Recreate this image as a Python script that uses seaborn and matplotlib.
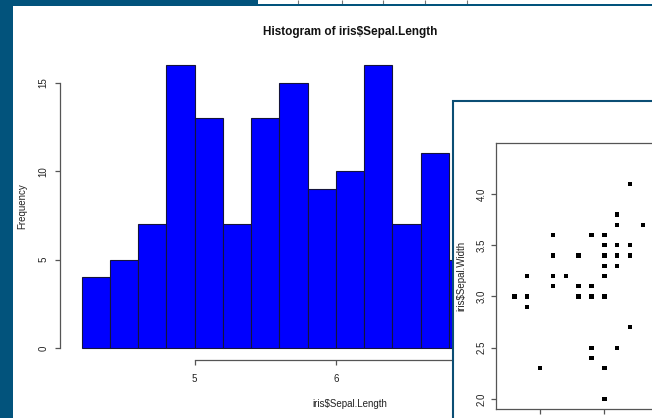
import numpy as np
import pandas as pd
import matplotlib
matplotlib.use("Agg")
import matplotlib.pyplot as plt
from matplotlib.patches import Rectangle
import seaborn as sns

# Histogram of sepal length: bin edges and counts per bin
bin_edges = [4.2, 4.4, 4.6, 4.8, 5.0, 5.2, 5.4, 5.6, 5.8, 6.0, 6.2, 6.4, 6.6, 6.8, 7.0]
bin_counts = [4, 5, 7, 16, 13, 7, 13, 15, 9, 10, 16, 7, 11, 5]
hist_xticks = [5, 6, 7, 8]
hist_yticks = [0, 5, 10, 15]

# Sepal length vs sepal width scatter points
sepal_length = [4.3, 4.4, 4.4, 4.4, 4.5, 4.6, 4.6, 4.6, 4.6, 4.7,
                4.8, 4.8, 4.8, 4.9, 4.9, 4.9, 4.9, 4.9, 5.0, 5.0,
                5.0, 5.0, 5.0, 5.0, 5.0, 5.0, 5.0, 5.1, 5.1, 5.1,
                5.1, 5.1, 5.1, 5.2, 5.2, 5.2, 5.2, 5.3]
sepal_width = [3.0, 2.9, 3.0, 3.2, 2.3, 3.1, 3.2, 3.4, 3.6, 3.2,
               3.0, 3.1, 3.4, 2.4, 2.5, 3.0, 3.1, 3.6, 2.0, 2.3,
               3.0, 3.2, 3.3, 3.4, 3.5, 3.6, 3.0, 2.5, 3.3, 3.4,
               3.5, 3.7, 3.8, 2.7, 3.4, 3.5, 4.1, 3.7]
scatter_xticks = [4.5, 5.0, 5.5, 6.0, 6.5, 7.0, 7.5, 8.0]
scatter_yticks = [2.0, 2.5, 3.0, 3.5, 4.0]

sns.set_theme(style="white")
plt.rcParams["font.family"] = ["Liberation Sans", "DejaVu Sans"]

W, H = 652, 418
DESKTOP = "#02537c"
AXIS_GREY = "#555555"
TEXT = "#222222"

fig = plt.figure(figsize=(W / 100, H / 100), dpi=100)
fig.patch.set_facecolor(DESKTOP)


def px_rect(x0, y0, x1, y1):
    return [x0 / W, 1 - y1 / H, (x1 - x0) / W, (y1 - y0) / H]


# strip of a window behind, at the very top
strip = fig.add_axes(px_rect(258, 0, 660, 3.5), zorder=-2)
strip.set_xlim(258, 660)
strip.set_ylim(0, 1)
strip.add_patch(Rectangle((0, 0), 1, 1, transform=strip.transAxes,
                          facecolor="white", zorder=-1))
strip.vlines([298, 342, 383, 425, 467], 0, 1, color="#777777", lw=0.8)
strip.axis("off")

# histogram window background
fig.add_artist(Rectangle((13.3 / W, 0), 1, 1 - 5.5 / H,
                         transform=fig.transFigure, facecolor="white",
                         edgecolor="none", zorder=-1))

# ---- histogram ----
ax = fig.add_axes(px_rect(60.2, 53.5, 640, 359.7), zorder=0)
ax.set_facecolor("none")
mids = [(a + b) / 2 for a, b in zip(bin_edges[:-1], bin_edges[1:])]
sns.histplot(x=mids, weights=bin_counts, bins=bin_edges, ax=ax,
             color="#0000ff", edgecolor="#14143c", linewidth=0.8, alpha=1)
ax.set_xlim(4.048, 8.152)
ax.set_ylim(-0.64, 16.64)
for side in ["top", "right"]:
    ax.spines[side].set_visible(False)
for side in ["left", "bottom"]:
    ax.spines[side].set_color(AXIS_GREY)
    ax.spines[side].set_linewidth(0.9)
ax.spines["left"].set_bounds(0, 15)
ax.spines["bottom"].set_bounds(5, 8)
ax.set_xticks(hist_xticks)
ax.set_yticks(hist_yticks)
ax.set_xticklabels([str(t) for t in hist_xticks])
ax.set_yticklabels([str(t) for t in hist_yticks], rotation=90, va="center")
ax.tick_params(axis="both", direction="out", length=3.6, width=0.9,
               color=AXIS_GREY, labelsize=7, labelcolor=TEXT)
ax.tick_params(axis="x", pad=7, bottom=True)
ax.tick_params(axis="y", pad=4.8, left=True)
ax.set_xlabel("iris$Sepal.Length", fontsize=7, color=TEXT, labelpad=10.5)
ax.set_ylabel("Frequency", fontsize=7, color=TEXT, labelpad=8.3)
ax.set_title("Histogram of iris$Sepal.Length", fontsize=8.5,
             fontweight="bold", color="#111111", pad=13)

# ---- scatter window frame ----
fig.add_artist(Rectangle((453 / W, -0.2), 0.5, 1 - 101 / H + 0.2,
                         transform=fig.transFigure, facecolor="white",
                         edgecolor="#0b4e74", linewidth=1.5, zorder=1))

ax2 = fig.add_axes(px_rect(495.8, 143.2, 995.8, 408.8), zorder=2)
ax2.set_facecolor("white")
sns.scatterplot(x=sepal_length, y=sepal_width, ax=ax2, marker="s", s=10,
                color="black", edgecolor="none", linewidth=0)
ax2.set_xlim(4.156, 8.044)
ax2.set_ylim(1.904, 4.496)
for side in ax2.spines:
    ax2.spines[side].set_color(AXIS_GREY)
    ax2.spines[side].set_linewidth(0.9)
ax2.set_xticks(scatter_xticks)
ax2.set_yticks(scatter_yticks)
# the x tick labels and x title sit below the visible area of this window
ax2.set_xticklabels([])
ax2.set_yticklabels([f"{t:.1f}" for t in scatter_yticks], rotation=90,
                    va="center")
ax2.tick_params(axis="both", direction="out", length=3.6, width=0.9,
                color=AXIS_GREY, labelsize=7, labelcolor=TEXT,
                bottom=True, left=True)
ax2.tick_params(axis="y", pad=2.7)
ax2.set_xlabel("")
ax2.set_ylabel("iris$Sepal.Width", fontsize=7, color=TEXT, labelpad=8)

fig.savefig("out.png", dpi=100, facecolor=fig.get_facecolor())
